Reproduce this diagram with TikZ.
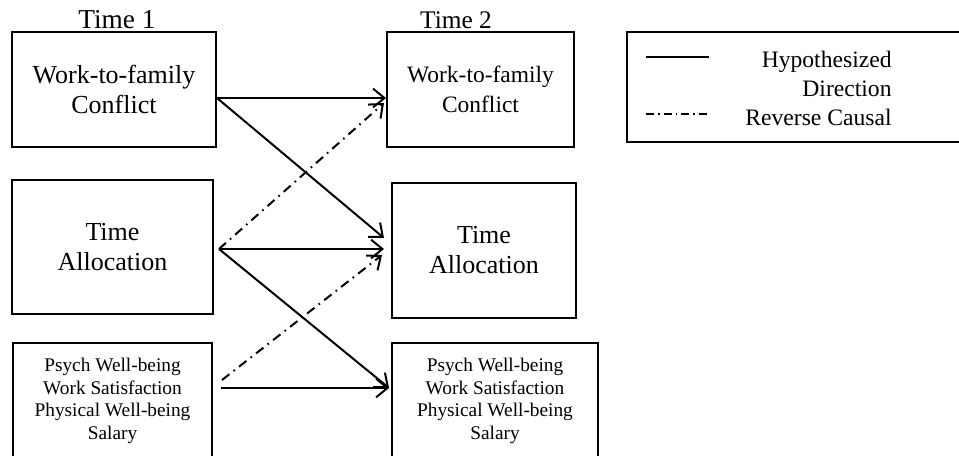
\documentclass[tikz,border=0pt]{standalone}
\usepackage{fontspec}
\setmainfont{Liberation Serif}
\usetikzlibrary{arrows.meta,positioning,calc}
\tikzset{
  >={Straight Barb[length=8.5pt,width=14pt]},
  every picture/.append style={line width=1.5pt},
}

\begin{document}
\begin{tikzpicture}[
    x=0.75pt, y=-0.75pt,
    box/.style={rectangle, draw, line width=1.5pt, align=center, inner sep=0pt},
    big/.style={font=\fontsize{19.5}{22.5}\selectfont},
    mid/.style={font=\fontsize{17.6}{22.5}\selectfont},
    small/.style={font=\fontsize{14.5}{16.9}\selectfont},
    legtext/.style={anchor=base east, font=\fontsize{17.7}{21.4}\selectfont},
    arrow/.style={->, line width=1.5pt},
    reverse/.style={->, line width=1.5pt, dash pattern=on 7pt off 4pt on 1.2pt off 4pt}
]
\useasboundingbox (0,0) rectangle (959,455);

% time 1 column
\node[anchor=base, font=\fontsize{20.5}{24}\selectfont] (t1) at (117,28) {Time 1};
\node[box, big, minimum width=153pt, minimum height=86.25pt] (wfc1) at (114,89.5) {Work-to-family\\Conflict};
\node[box, big, minimum width=150.75pt, minimum height=100.5pt] (ta1) at (112.5,247) {Time\\Allocation};
\node[box, small, minimum width=149.25pt, minimum height=87pt] (out1) at (112.5,401) {Psych Well-being\\Work Satisfaction\\Physical Well-being\\Salary};

% time 2 column
\node[anchor=base, font=\fontsize{19}{23}\selectfont] (t2) at (456,28) {Time 2};
\node[box, mid, minimum width=140.25pt, minimum height=86.25pt] (wfc2) at (480.5,89.5) {Work-to-family\\Conflict};
\node[box, big, minimum width=138pt, minimum height=101.25pt] (ta2) at (484,250.5) {Time\\Allocation};
\node[box, small, minimum width=154.5pt, minimum height=87pt] (out2) at (495,401) {Psych Well-being\\Work Satisfaction\\Physical Well-being\\Salary};

% legend
\node[box, minimum width=261pt, minimum height=82.5pt] (legend) at (801,87) {};
\coordinate (hyp-a) at ($(legend.west)+(20,-30)$);
\coordinate (hyp-b) at ($(legend.west)+(83,-30)$);
\coordinate (rev-a) at ($(legend.west)+(20,27)$);
\coordinate (rev-b) at ($(legend.west)+(83,27)$);
\draw[line width=1.5pt] (hyp-a) -- (hyp-b);
\draw[line width=1.1pt, dash pattern=on 6pt off 3pt on 1.2pt off 3pt] (rev-a) -- (rev-b);
\node[legtext] (leg1) at (897,67) {Hypothesized};
\node[legtext] (leg2) at (897,96) {Direction};
\node[legtext] (leg3) at (897,125) {Reverse Causal};

% hypothesized paths
\draw[arrow] ($(wfc1.east)+(0,8.5)$) -- ($(wfc2.west)+(0,8.5)$);
\draw[arrow] ($(wfc1.east)+(0,8.5)$) -- ($(ta2.west)+(-7,-12.5)$);
\draw[arrow] ($(ta1.east)+(5,2)$) -- ($(ta2.west)+(-7,-1.5)$);
\draw[arrow] ($(ta1.east)+(5,2)$) -- ($(out2.west)+(-2,-13)$);
\draw[arrow] ($(out1.east)+(8,-13)$) -- ($(out2.west)+(-2,-13)$);

% reverse causal paths
\draw[reverse] ($(ta1.east)+(5,2)$) -- ($(wfc2.west)+(-2,13.5)$);
\draw[reverse] ($(out1.east)+(9,-21)$) -- ($(ta2.west)+(-9,4.5)$);
\end{tikzpicture}
\end{document}
